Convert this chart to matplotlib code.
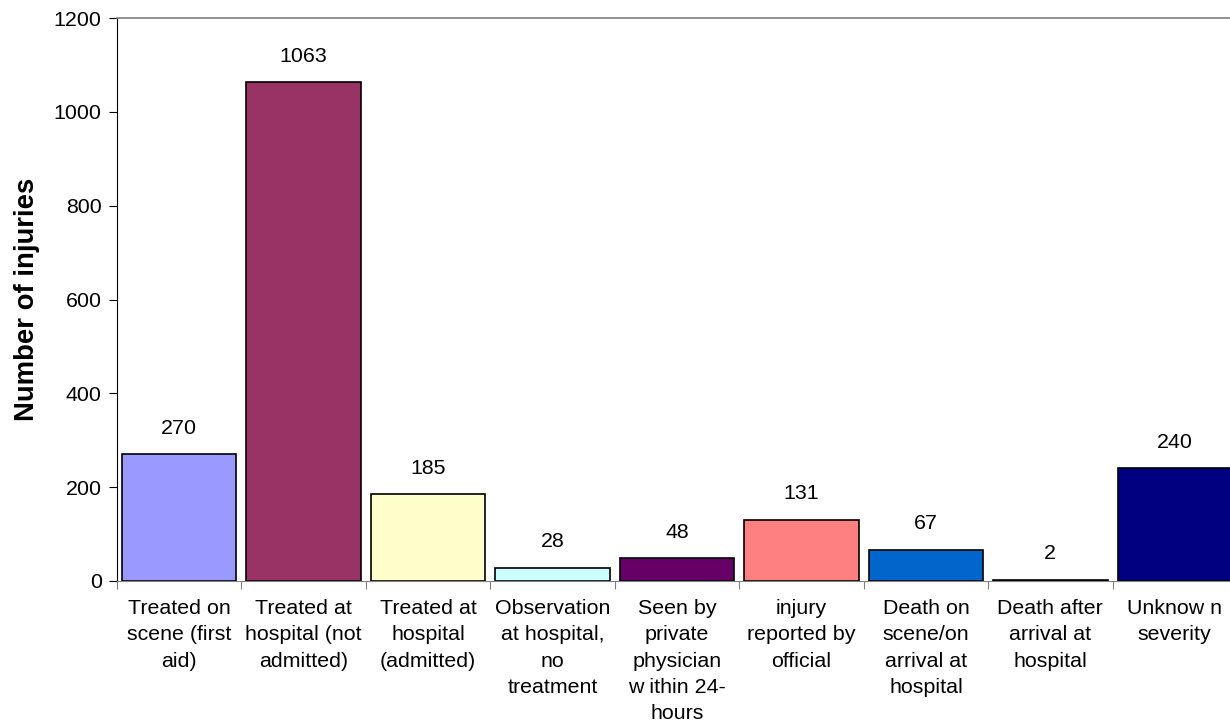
import matplotlib.pyplot as plt
import numpy as np

plt.rcParams['font.family'] = ['Liberation Sans', 'DejaVu Sans']

categories = [
    "Treated on\nscene (first\naid)",
    "Treated at\nhospital (not\nadmitted)",
    "Treated at\nhospital\n(admitted)",
    "Observation\nat hospital,\nno\ntreatment",
    "Seen by\nprivate\nphysician\nw ithin 24-\nhours",
    "injury\nreported by\nofficial",
    "Death on\nscene/on\narrival at\nhospital",
    "Death after\narrival at\nhospital",
    "Unknow n\nseverity",
]
values = [270, 1063, 185, 28, 48, 131, 67, 2, 240]
colors = ["#9999FF", "#993366", "#FFFFCC", "#CCFFFF", "#660066",
          "#FF8080", "#0066CC", "#CCCCFF", "#000080"]

W, H = 1230, 725
fig = plt.figure(figsize=(W / 100, H / 100), dpi=100)
ax = fig.add_axes([117 / W, (H - 581) / H, (1237 - 117) / W, (581 - 18) / H])

x = np.arange(len(values))
ax.bar(x, values, width=0.92, color=colors, edgecolor="black", linewidth=1.2, zorder=2)

for xi, v in zip(x, values):
    ax.annotate(str(v), (xi, v), xytext=(0, 12), textcoords="offset points",
                ha="center", va="bottom", fontsize=15.4)

ax.set_xlim(-0.5, len(values) - 0.5)
ax.set_ylim(0, 1200)
ax.set_yticks(range(0, 1201, 200))
ax.set_xticks(np.arange(len(values) + 1) - 0.5, minor=False)
ax.set_xticklabels([])
ax.set_xticks(x, minor=True)
ax.set_xticklabels(categories, minor=True, fontsize=15.4, linespacing=1.49, va="top")
ax.tick_params(axis="x", which="minor", length=0, pad=13)
ax.tick_params(axis="x", which="major", length=6, color="#808080")
ax.tick_params(axis="y", length=6, labelsize=15.4, pad=5)

ax.spines["left"].set_color("black")
ax.spines["bottom"].set_color("#808080")
ax.spines["top"].set_color("#808080")
ax.spines["right"].set_visible(False)
ax.spines["top"].set_linewidth(1.2)

ax.set_ylabel("Number of injuries", fontsize=19.8, fontweight="bold", labelpad=10)

fig.savefig("out.png", dpi=100)
